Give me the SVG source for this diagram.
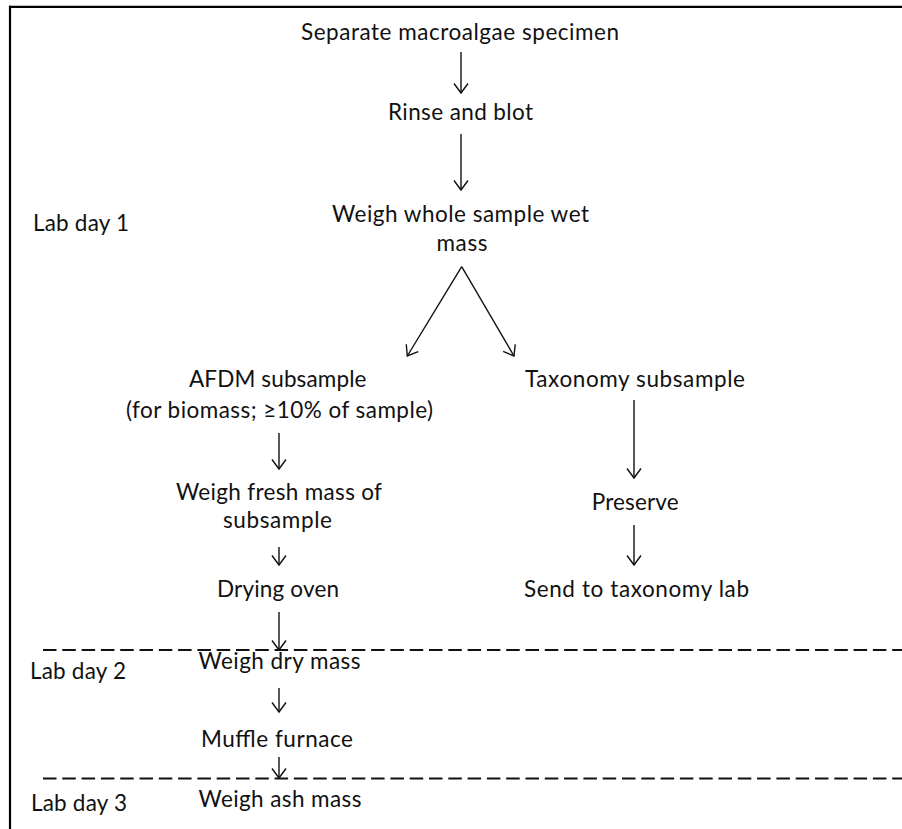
<svg xmlns="http://www.w3.org/2000/svg" width="902" height="829" viewBox="0 0 902 829">
<style>
  text { font-family: "Lato", "Open Sans", "Liberation Sans", sans-serif; font-size: 22.5px; fill: #111; }
  .conn { stroke: #111; stroke-width: 1.4; fill: none; marker-end: url(#arrow); }
  .frame { stroke: #000; stroke-width: 2.2; fill: none; }
  .day { stroke: #111; stroke-width: 1.8; stroke-dasharray: 13.5 5.8; fill: none; }
</style>
<defs>
  <marker id="arrow" markerUnits="userSpaceOnUse" viewBox="-12 -9 14 18" refX="0" refY="0" markerWidth="14" markerHeight="18" orient="auto" overflow="visible">
    <path d="M-9.5,-7 L0,0 L-9.5,7" fill="none" stroke="#111" stroke-width="1.4"/>
  </marker>
</defs>
<rect width="902" height="829" fill="#fff"/>
<g id="frame">
  <line class="frame" x1="9" y1="6.8" x2="902" y2="6.8"/>
  <line class="frame" x1="10" y1="5.7" x2="10" y2="829"/>
</g>
<g id="day-dividers">
  <line class="day" x1="43" y1="650" x2="902" y2="650"/>
  <line class="day" x1="43" y1="778.5" x2="902" y2="778.5"/>
</g>
<g id="day-labels">
  <text id="lab-day-1" x="33" y="230.7" textLength="96">Lab day 1</text>
  <text id="lab-day-2" x="30" y="679" textLength="96">Lab day 2</text>
  <text id="lab-day-3" x="31" y="810.7" textLength="96">Lab day 3</text>
</g>
<g id="connectors">
  <line class="conn" x1="461" y1="52" x2="461" y2="93"/>
  <line class="conn" x1="461" y1="134" x2="461" y2="190"/>
  <line class="conn" x1="461.7" y1="266.7" x2="407.3" y2="356"/>
  <line class="conn" x1="461.7" y1="266.7" x2="514" y2="356"/>
  <line class="conn" x1="279" y1="433" x2="279" y2="469"/>
  <line class="conn" x1="279" y1="547" x2="279" y2="565"/>
  <line class="conn" x1="279" y1="612" x2="279" y2="650"/>
  <line class="conn" x1="279" y1="688" x2="279" y2="712"/>
  <line class="conn" x1="279" y1="757" x2="279" y2="778"/>
  <line class="conn" x1="634" y1="400" x2="634" y2="478"/>
  <line class="conn" x1="634" y1="525" x2="634" y2="565"/>
</g>
<g id="separate">
  <text x="301" y="39.5" textLength="318">Separate macroalgae specimen</text>
</g>
<g id="rinse">
  <text x="388" y="120" textLength="145">Rinse and blot</text>
</g>
<g id="weigh-whole">
  <text x="332" y="221.7" textLength="257">Weigh whole sample wet</text>
  <text x="436.5" y="250.7" textLength="51">mass</text>
</g>
<g id="afdm">
  <text x="189" y="386.7" textLength="177.5">AFDM subsample</text>
  <text x="126" y="418" textLength="307">(for biomass; ≥10% of sample)</text>
</g>
<g id="taxonomy">
  <text x="525" y="386.7" textLength="220">Taxonomy subsample</text>
</g>
<g id="weigh-fresh">
  <text x="176" y="500" textLength="206">Weigh fresh mass of</text>
  <text x="223" y="528" textLength="109">subsample</text>
</g>
<g id="drying">
  <text x="217" y="596.7" textLength="122">Drying oven</text>
</g>
<g id="preserve">
  <text x="591.7" y="510" textLength="87">Preserve</text>
</g>
<g id="send">
  <text x="524" y="596.7" textLength="225">Send to taxonomy lab</text>
</g>
<g id="weigh-dry">
  <text x="198.5" y="669" textLength="162">Weigh dry mass</text>
</g>
<g id="muffle">
  <text x="201" y="747" textLength="152">Muffle furnace</text>
</g>
<g id="weigh-ash">
  <text x="198.5" y="807" textLength="163">Weigh ash mass</text>
</g>
</svg>
